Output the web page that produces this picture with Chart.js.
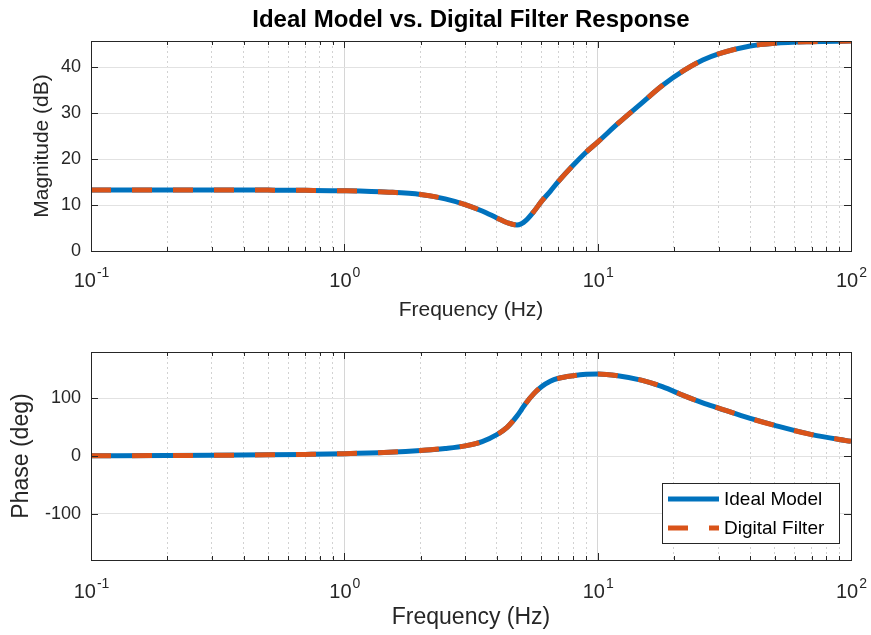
<!doctype html>
<html lang="en">
<head>
<meta charset="UTF-8" />
<title>Ideal Model vs. Digital Filter Response</title>
<script src="https://cdn.jsdelivr.net/npm/chart.js"></script>
<style>
  body { margin: 0; background: #fff; }
  .wrap { position: relative; width: 871px; height: 635px; }
  canvas { position: absolute; left: 0; }
  #magChart { top: 0; }
  #phaseChart { top: 330px; }
</style>
</head>
<body>
<div class="wrap">
  <canvas id="magChart" width="871" height="335"></canvas>
  <canvas id="phaseChart" width="871" height="305"></canvas>
</div>
<script>
// frequency points (Hz)
const freqs = [0.1, 0.2, 0.3, 0.5, 0.7, 1, 1.5, 2, 2.5, 3, 3.5, 4, 4.4, 4.8, 5, 5.2, 5.6, 6, 6.5, 7, 8, 9, 10,
  12, 15, 18, 22, 26, 30, 40, 50, 70, 100];

// magnitude (dB)
const magIdeal = [13.3, 13.3, 13.3, 13.25, 13.2, 13.1, 12.8, 12.3, 11.35, 10.1, 8.7, 7.2, 6.15, 5.65, 5.95, 6.6, 8.6,
  10.8, 13.0, 15.15, 18.65, 21.5, 23.7, 27.7, 32.3, 36.0, 39.35, 41.55, 42.9, 44.6, 45.2, 45.55, 45.7];
const magDigital = [13.3, 13.3, 13.3, 13.25, 13.2, 13.1, 12.8, 12.3, 11.35, 10.1, 8.7, 7.2, 6.15, 5.65, 5.95, 6.6, 8.6,
  10.8, 13.0, 15.15, 18.65, 21.5, 23.7, 27.7, 32.3, 36.0, 39.35, 41.55, 42.9, 44.6, 45.2, 45.55, 45.7];

// phase (deg)
const phaseIdeal = [0.4, 0.8, 1.2, 2, 2.8, 4, 6.5, 9.5, 13, 17.5, 25, 37, 50, 69, 80, 91, 108,
  120, 129.5, 134.5, 139, 141.5, 142, 139, 131, 120, 104, 92, 83, 65, 53, 37, 25.5];
const phaseDigital = [0.4, 0.8, 1.2, 2, 2.8, 4, 6.5, 9.5, 13, 17.5, 25, 37, 50, 69, 80, 91, 108,
  120, 129.5, 134.5, 139, 141.5, 142, 139, 131, 120, 104, 92, 83, 65, 53, 37, 25.5];

// axis ticks
const xGridTicks = [0.1, 0.2, 0.3, 0.4, 0.5, 0.6, 0.7, 0.8, 0.9, 1, 2, 3, 4, 5, 6, 7, 8, 9,
  10, 20, 30, 40, 50, 60, 70, 80, 90, 100];
const magTicks = [0, 10, 20, 30, 40];
const phaseTicks = [-100, 0, 100];

const FONT = "'Liberation Sans', Arial, Helvetica, sans-serif";
const INK = "#262626";
const BLUE = "#0072BD";
const ORANGE = "#D95319";

function isDecade(v) {
  const l = Math.log10(v);
  return Math.abs(l - Math.round(l)) < 1e-9;
}

function toPoints(vals) {
  return freqs.map((f, i) => ({ x: f, y: vals[i] }));
}

// box, inward tick marks and 10^n labels
const frame = {
  id: "frame",
  afterDatasetsDraw(chart, args, opts) {
    const { ctx, chartArea: a, scales: { x, y } } = chart;
    ctx.save();
    ctx.strokeStyle = INK;
    ctx.lineWidth = 1;
    ctx.setLineDash([]);
    ctx.beginPath();
    x.ticks.forEach(t => {
      const px = Math.round(x.getPixelForValue(t.value)) + 0.5;
      const len = isDecade(t.value) ? 7 : 4;
      ctx.moveTo(px, a.bottom);
      ctx.lineTo(px, a.bottom - len);
      ctx.moveTo(px, a.top);
      ctx.lineTo(px, a.top + len);
    });
    y.ticks.forEach(t => {
      const py = Math.round(y.getPixelForValue(t.value)) + 0.5;
      ctx.moveTo(a.left, py);
      ctx.lineTo(a.left + 7, py);
      ctx.moveTo(a.right, py);
      ctx.lineTo(a.right - 7, py);
    });
    ctx.stroke();
    ctx.strokeRect(Math.round(a.left) + 0.5, Math.round(a.top) + 0.5,
      Math.round(a.right - a.left), Math.round(a.bottom - a.top));

    ctx.fillStyle = INK;
    ctx.textAlign = "left";
    ctx.textBaseline = "alphabetic";
    x.ticks.filter(t => isDecade(t.value)).forEach(t => {
      const exp = String(Math.round(Math.log10(t.value)));
      ctx.font = opts.base + "px " + FONT;
      const wb = ctx.measureText("10").width;
      ctx.font = opts.sup + "px " + FONT;
      const we = ctx.measureText(exp).width;
      const left = x.getPixelForValue(t.value) - (wb + we) / 2;
      const base = a.bottom + opts.offset;
      ctx.font = opts.base + "px " + FONT;
      ctx.fillText("10", left, base);
      ctx.font = opts.sup + "px " + FONT;
      ctx.fillText(exp, left + wb + 1, base - opts.rise);
    });
    ctx.restore();
  }
};

// boxed legend inside the lower right of the plot
const boxLegend = {
  id: "boxLegend",
  afterDatasetsDraw(chart, args, opts) {
    const { ctx, chartArea: a } = chart;
    const w = 177, h = 60;
    const right = a.right - 12, bottom = a.bottom - 17;
    const left = right - w, top = bottom - h;
    ctx.save();
    ctx.fillStyle = "#fff";
    ctx.fillRect(left, top, w, h);
    ctx.strokeStyle = INK;
    ctx.lineWidth = 1;
    ctx.strokeRect(Math.round(left) + 0.5, Math.round(top) + 0.5, w, h);
    ctx.font = "19px " + FONT;
    ctx.textBaseline = "middle";
    ctx.textAlign = "left";
    chart.data.datasets.forEach((ds, i) => {
      const yy = top + 16 + i * 29;
      ctx.strokeStyle = ds.borderColor;
      ctx.lineWidth = ds.borderWidth;
      ctx.setLineDash(ds.borderDash || []);
      ctx.beginPath();
      ctx.moveTo(left + 6, yy);
      ctx.lineTo(left + 57, yy);
      ctx.stroke();
      ctx.fillStyle = "#000";
      ctx.fillText(ds.label, left + 62, yy + 1);
    });
    ctx.restore();
  }
};

function makeDatasets(ideal, digital) {
  return [
    {
      label: "Ideal Model",
      data: toPoints(ideal),
      borderColor: BLUE,
      borderWidth: 5,
      pointRadius: 0,
      cubicInterpolationMode: "monotone",
      order: 2
    },
    {
      label: "Digital Filter",
      data: toPoints(digital),
      borderColor: ORANGE,
      borderWidth: 5,
      borderDash: [20, 21],
      pointRadius: 0,
      cubicInterpolationMode: "monotone",
      order: 1
    }
  ];
}

function xScale(height, titleSize, titlePad) {
  return {
    type: "logarithmic",
    min: 0.1,
    max: 100,
    afterBuildTicks: s => { s.ticks = xGridTicks.map(v => ({ value: v })); },
    afterFit: s => { s.height = height; },
    ticks: { display: false },
    grid: {
      drawTicks: false,
      color: c => (c.tick && isDecade(c.tick.value) ? "#d6d6d6" : "#d2d2d2"),
      lineWidth: 1
    },
    border: { display: false, dash: c => (c.tick && !isDecade(c.tick.value) ? [2, 3] : []) },
    title: {
      display: true,
      text: "Frequency (Hz)",
      color: INK,
      font: { family: FONT, size: titleSize },
      padding: { top: 0, bottom: titlePad }
    }
  };
}

function yScale(min, max, ticks, label, titleSize, titlePad) {
  return {
    min: min,
    max: max,
    afterBuildTicks: s => { s.ticks = ticks.map(v => ({ value: v })); },
    afterFit: s => { s.width = 91; },
    ticks: { padding: 10, color: INK, font: { family: FONT, size: 18 } },
    grid: { drawTicks: false, color: "#e2e2e2" },
    border: { display: false },
    title: {
      display: true,
      text: label,
      color: INK,
      font: { family: FONT, size: titleSize },
      padding: { top: titlePad, bottom: 0 }
    }
  };
}

new Chart(document.getElementById("magChart"), {
  type: "line",
  data: { datasets: makeDatasets(magIdeal, magDigital) },
  options: {
    responsive: false,
    animation: false,
    layout: { padding: { left: 0, right: 20, top: 0, bottom: 0 } },
    scales: {
      x: xScale(84, 21, 12),
      y: yScale(0, 45.7, magTicks, "Magnitude (dB)", 21, 30)
    },
    plugins: {
      legend: { display: false },
      tooltip: { enabled: false },
      title: {
        display: true,
        fullSize: false,
        text: "Ideal Model vs. Digital Filter Response",
        color: "#000",
        font: { family: FONT, size: 24, weight: "bold", lineHeight: 1.2 },
        padding: { top: 6, bottom: 6.2 }
      },
      frame: { base: 20, sup: 14, offset: 36, rise: 10 }
    }
  },
  plugins: [frame]
});

new Chart(document.getElementById("phaseChart"), {
  type: "line",
  data: { datasets: makeDatasets(phaseIdeal, phaseDigital) },
  options: {
    responsive: false,
    animation: false,
    layout: { padding: { left: 0, right: 20, top: 22, bottom: 0 } },
    scales: {
      x: xScale(75, 23, 4),
      y: yScale(-180, 180, phaseTicks, "Phase (deg)", 23, 8)
    },
    plugins: {
      legend: { display: false },
      tooltip: { enabled: false },
      frame: { base: 20, sup: 14, offset: 38, rise: 10 }
    }
  },
  plugins: [frame, boxLegend]
});
</script>
</body>
</html>
